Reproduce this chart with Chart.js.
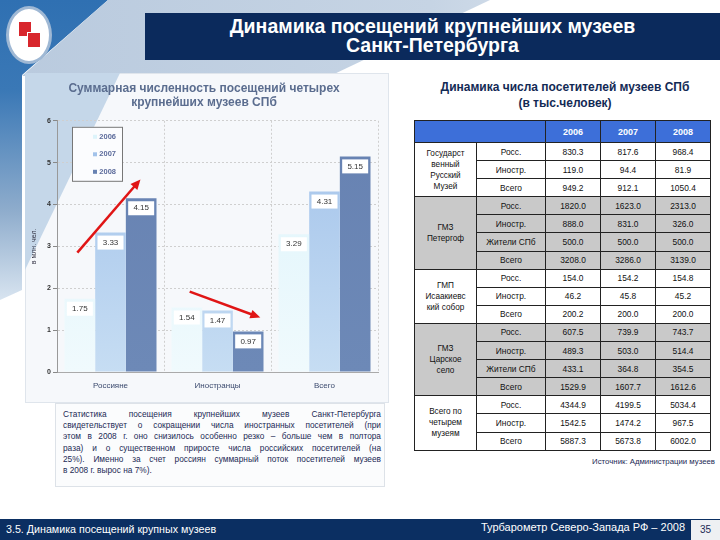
<!DOCTYPE html>
<html>
<head>
<meta charset="utf-8">
<script src="https://cdn.jsdelivr.net/npm/chart.js@4/dist/chart.umd.min.js"></script>
<style>
  body { margin: 0; width: 720px; height: 540px; position: relative; overflow: hidden; background: #fff; font-family: "Liberation Sans", Arial, sans-serif; }
  .abs { position: absolute; }
  #bgBlue { left: 0; top: 0; width: 720px; height: 300px; background: linear-gradient(180deg, #2f70b2 0%, #3a78b6 30%, #8eaccc 70%, #d8e4f0 100%); clip-path: polygon(0 0, 108px 0, 22px 75px, 22px 290px, 0 300px); }
  #bgBand { left: 0; top: 0; width: 720px; height: 76px; background: linear-gradient(90deg, #b9cade 0%, #c6d4e4 60%, #e8eef5 100%); clip-path: polygon(108px 0, 490px 0, 330px 76px, 22px 76px); }
  #header { left: 145px; top: 13px; width: 575px; height: 47px; background: #0b2a5c; color: #fff; font-weight: bold; font-size: 19.5px; text-align: center; line-height: 19px; padding-top: 4px; box-sizing: border-box; }
  #logo { left: 6px; top: 6px; width: 46px; height: 58px; border-radius: 50%; background: #fff; border: 3px solid #9fb8d4; box-sizing: border-box; }
  #logoMark1 { left: 19px; top: 22px; width: 12px; height: 14px; background: #d8262c; }
  #logoMark2 { left: 27px; top: 32px; width: 12px; height: 14px; background: #d8262c; border: 1px solid #fff; }
  #panel { left: 25px; top: 73px; width: 362px; height: 328px; background: #f6f8fb; border: 1px solid #dfe5ec; }
  #panelTri { left: 25px; top: 73px; width: 120px; height: 200px; background: #c5d7e9; clip-path: polygon(0 0, 95px 0, 0 197px); }
  #chartBox { left: 30px; top: 76px; width: 355px; height: 326px; }
  #textBox { left: 55px; top: 403px; width: 330px; height: 84px; background: #fbfcfd; border: 1px solid #dde2e8; box-sizing: border-box; padding: 5px 5px 0 7px; font-size: 8.3px; line-height: 11.2px; color: #1b2a55; }
  #textBox div { white-space: nowrap; text-align: justify; text-align-last: justify; width: 318px; }
  #textBox div.last { text-align-last: left; }
  #tableTitle { left: 405px; top: 80px; width: 320px; text-align: center; font-weight: bold; font-size: 12px; line-height: 15.5px; color: #132a55; }
  table { position: absolute; left: 414px; top: 120px; border-collapse: collapse; table-layout: fixed; width: 296px; font-size: 8.4px; color: #111; }
  td { border: 1px solid #222; text-align: center; padding: 0; line-height: 10px; }
  tr.r { height: 18.1px; }
  tr.h { height: 22px; }
  th { background: #3d6fd9; color: #fff; border: 1px solid #222; font-size: 9px; padding: 0; }
  tr.g td { background: #c9c9c9; }
  td.m { line-height: 11px; font-size: 8.2px; }
  #source { left: 540px; top: 457px; width: 175px; text-align: right; font-size: 7.8px; color: #1b2a55; }
  #footer { left: 0; top: 519px; width: 720px; height: 21px; background: #0b2f62; }
  #footL { left: 6px; top: 523px; color: #fff; font-size: 10.7px; }
  #footR { left: 380px; top: 521px; width: 305px; text-align: right; color: #fff; font-size: 11px; }
  #pageNo { left: 691px; top: 520px; width: 29px; height: 20px; background: #eef0f3; color: #1b2a55; font-size: 10px; text-align: center; line-height: 20px; }
</style>
</head>
<body>
<div id="bgBlue" class="abs"></div>
<div id="bgBand" class="abs"></div>
<div id="header" class="abs">Динамика посещений крупнейших музеев<br>Санкт-Петербурга</div>
<div id="logo" class="abs"></div>
<div id="logoMark1" class="abs"></div>
<div id="logoMark2" class="abs"></div>
<div id="panel" class="abs"></div>
<div id="panelTri" class="abs"></div>
<div id="chartBox" class="abs"><canvas id="chart" width="355" height="326" style="width:355px;height:326px"></canvas></div>
<div id="textBox" class="abs">
<div>Статистика посещения крупнейших музеев Санкт-Петербурга</div>
<div>свидетельствует о сокращении числа иностранных посетителей (при</div>
<div>этом в 2008 г. оно снизилось особенно резко – больше чем в полтора</div>
<div>раза) и о существенном приросте числа российских посетителей (на</div>
<div>25%). Именно за счет россиян суммарный поток посетителей музеев</div>
<div class="last">в 2008 г. вырос на 7%).</div>
</div>
<div id="tableTitle" class="abs">Динамика числа посетителей музеев СПб<br>(в тыс.человек)</div>
<table id="tbl"></table>
<div id="source" class="abs">Источник: Администрации музеев</div>
<div id="footer" class="abs"></div>
<div id="footL" class="abs">3.5. Динамика посещений крупных музеев</div>
<div id="footR" class="abs">Турбарометр Северо-Запада РФ – 2008</div>
<div id="pageNo" class="abs">35</div>

<script>
// chart data (млн. чел.)
const categories = ["Россияне", "Иностранцы", "Всего"];
const years = ["2006", "2007", "2008"];
const values2006 = [1.75, 1.54, 3.29];
const values2007 = [3.33, 1.47, 4.31];
const values2008 = [4.15, 0.97, 5.15];
const yMin = 0, yMax = 6, yStep = 1;

// red trend arrows, in category index / value units
const arrows = [
    { from: [-0.31, 2.85], to: [0.28, 4.6] },
    { from: [0.74, 1.92], to: [1.4, 1.3] },
];

// table data (тыс. человек)
const museums = ["Государст<br>венный<br>Русский<br>Музей", "ГМЗ<br>Петергоф", "ГМП<br>Исаакиевс<br>кий собор", "ГМЗ<br>Царское<br>село", "Всего по<br>четырем<br>музеям"];
const rowLabels = [
    ["Росс.", "Иностр.", "Всего"],
    ["Росс.", "Иностр.", "Жители СПб", "Всего"],
    ["Росс.", "Иностр.", "Всего"],
    ["Росс.", "Иностр.", "Жители СПб", "Всего"],
    ["Росс.", "Иностр.", "Всего"],
];
const rowValues = [
    [["830.3", "817.6", "968.4"], ["119.0", "94.4", "81.9"], ["949.2", "912.1", "1050.4"]],
    [["1820.0", "1623.0", "2313.0"], ["888.0", "831.0", "326.0"], ["500.0", "500.0", "500.0"], ["3208.0", "3286.0", "3139.0"]],
    [["154.0", "154.2", "154.8"], ["46.2", "45.8", "45.2"], ["200.2", "200.0", "200.0"]],
    [["607.5", "739.9", "743.7"], ["489.3", "503.0", "514.4"], ["433.1", "364.8", "354.5"], ["1529.9", "1607.7", "1612.6"]],
    [["4344.9", "4199.5", "5034.4"], ["1542.5", "1474.2", "967.5"], ["5887.3", "5673.8", "6002.0"]],
];
const grayGroups = [1, 3];

function buildTable() {
    let html = '<colgroup><col style="width:62px"><col style="width:69px"><col style="width:55px"><col style="width:55px"><col style="width:55px"></colgroup>';
    html += '<tr class="h"><th colspan="2"></th>' + years.map(y => '<th>' + y + '</th>').join('') + '</tr>';
    for (let g = 0; g < museums.length; g++) {
        let cls = grayGroups.includes(g) ? 'r g' : 'r';
        for (let r = 0; r < rowLabels[g].length; r++) {
            html += '<tr class="' + cls + '">';
            if (r == 0) {
                html += '<td class="m" rowspan="' + rowLabels[g].length + '">' + museums[g] + '</td>';
            }
            html += '<td>' + rowLabels[g][r] + '</td>';
            html += rowValues[g][r].map(v => '<td>' + v + '</td>').join('');
            html += '</tr>';
        }
    }
    document.getElementById("tbl").innerHTML = html;
}
buildTable();

const barColors = [
    ["#ddf4fb", "#f0fafd"],
    ["#a2c2ea", "#c6ddf3"],
    ["#6782b2", "#6d89b7"],
];

function gradientFor(i) {
    return function(ctx) {
        let area = ctx.chart.chartArea;
        if (!area) { return barColors[i][0]; }
        let g = ctx.chart.ctx.createLinearGradient(0, area.top, 0, area.bottom);
        g.addColorStop(0, barColors[i][0]);
        g.addColorStop(1, barColors[i][1]);
        return g;
    };
}

function catPixel(scale, v) {
    let p0 = scale.getPixelForValue(0);
    let p1 = scale.getPixelForValue(1);
    return p0 + v * (p1 - p0);
}

const valueLabels = {
    id: "valueLabels",
    afterDatasetsDraw(chart) {
        let c = chart.ctx;
        c.save();
        c.font = "8px 'Liberation Sans', Arial, sans-serif";
        c.textAlign = "center";
        c.textBaseline = "middle";
        chart.data.datasets.forEach((ds, i) => {
            chart.getDatasetMeta(i).data.forEach((bar, j) => {
                let y = bar.y;
                c.fillStyle = "#ffffff";
                c.fillRect(bar.x - 13, y + 3, 26, 14);
                c.fillStyle = "#333";
                c.fillText(ds.data[j].toFixed(2), bar.x, y + 10);
            });
        });
        // arrows
        let xs = chart.scales.x, ys = chart.scales.y;
        c.strokeStyle = "#e01515";
        c.fillStyle = "#e01515";
        c.lineWidth = 2.5;
        arrows.forEach(a => {
            let x1 = catPixel(xs, a.from[0]), y1 = ys.getPixelForValue(a.from[1]);
            let x2 = catPixel(xs, a.to[0]), y2 = ys.getPixelForValue(a.to[1]);
            let ang = Math.atan2(y2 - y1, x2 - x1);
            c.beginPath();
            c.moveTo(x1, y1);
            c.lineTo(x2 - 6 * Math.cos(ang), y2 - 6 * Math.sin(ang));
            c.stroke();
            c.beginPath();
            c.moveTo(x2, y2);
            c.lineTo(x2 - 10 * Math.cos(ang) + 4.5 * Math.sin(ang), y2 - 10 * Math.sin(ang) - 4.5 * Math.cos(ang));
            c.lineTo(x2 - 10 * Math.cos(ang) - 4.5 * Math.sin(ang), y2 - 10 * Math.sin(ang) + 4.5 * Math.cos(ang));
            c.closePath();
            c.fill();
        });
        // legend box inside the plot
        let area = chart.chartArea;
        let lx = area.left + 15, ly = area.top + 6;
        c.fillStyle = "#fbfcfe";
        c.fillRect(lx, ly, 50, 54);
        c.strokeStyle = "#777";
        c.lineWidth = 1;
        c.strokeRect(lx + 0.5, ly + 0.5, 50, 54);
        c.font = "bold 7.5px 'Liberation Sans', Arial, sans-serif";
        c.textAlign = "right";
        years.forEach((y, i) => {
            let ty = ly + 10 + i * 17.5;
            c.fillStyle = barColors[i][0];
            c.fillRect(lx + 21, ty - 2, 4, 4);
            c.fillStyle = "#5d6c9c";
            c.fillText(y, lx + 44, ty);
        });
        c.restore();
    }
};

new Chart(document.getElementById("chart"), {
    type: "bar",
    data: {
        labels: categories,
        datasets: [
            { label: years[0], data: values2006, backgroundColor: gradientFor(0) },
            { label: years[1], data: values2007, backgroundColor: gradientFor(1) },
            { label: years[2], data: values2008, backgroundColor: gradientFor(2) },
        ],
    },
    options: {
        responsive: false,
        maintainAspectRatio: false,
        animation: false,
        devicePixelRatio: 1,
        layout: { padding: { left: 0, right: 7, top: 0, bottom: 0 } },
        datasets: { bar: { categoryPercentage: 0.86, barPercentage: 1.0 } },
        plugins: {
            legend: { display: false },
            tooltip: { enabled: false },
            title: {
                display: true,
                text: ["Суммарная численность посещений четырех", "крупнейших музеев СПб"],
                color: "#5b6d8f",
                font: { family: "'Liberation Sans', Arial, sans-serif", size: 12, weight: "bold", lineHeight: 1.2 },
                padding: { top: 5, bottom: 11 },
            },
        },
        scales: {
            x: {
                grid: { color: "#cfcfcf", drawTicks: false, lineWidth: 1 },
                border: { color: "#aaaaaa", dash: [2, 2] },
                ticks: { color: "#3b4a6e", padding: 9, font: { family: "'Liberation Sans', Arial, sans-serif", size: 8 } },
                afterFit: (s) => { s.height = 30; },
            },
            y: {
                min: yMin,
                max: yMax,
                ticks: { stepSize: yStep, color: "#333", padding: 2, font: { family: "'Liberation Sans', Arial, sans-serif", size: 7, weight: "bold" } },
                grid: { color: "#cfcfcf", tickLength: 4, tickColor: "#888" },
                border: { color: "#999", dash: [2, 2] },
                title: { display: true, text: "в млн. чел.", color: "#334", padding: 0, font: { family: "'Liberation Sans', Arial, sans-serif", size: 7 } },
                afterFit: (s) => { s.width = 27; },
            },
        },
    },
    plugins: [valueLabels],
});
</script>
</body>
</html>
